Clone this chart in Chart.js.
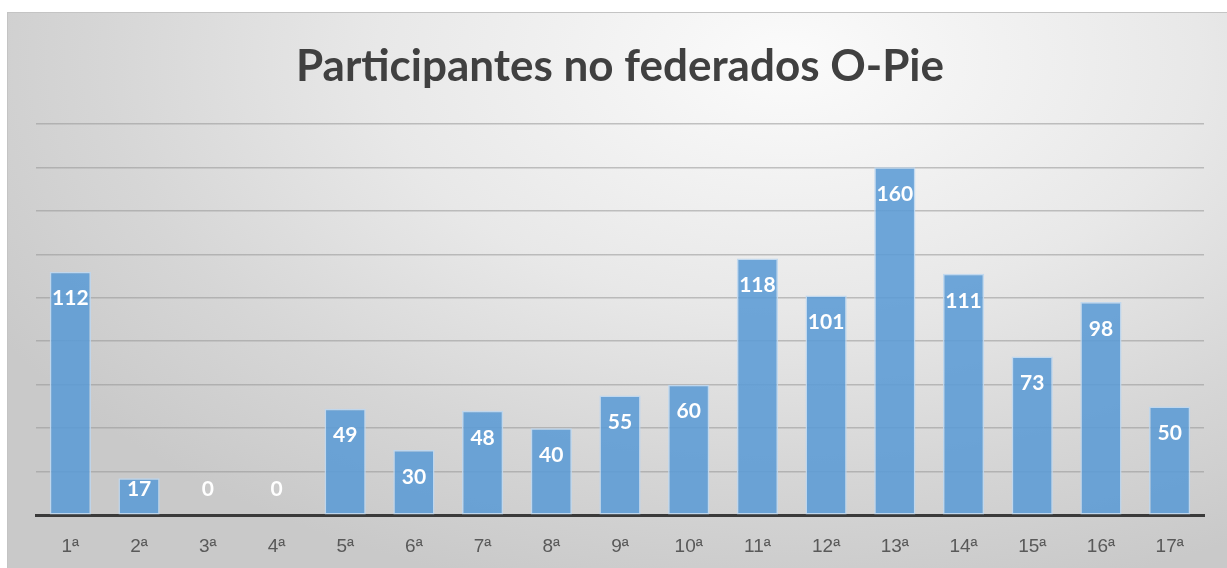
<!DOCTYPE html>
<html>
<head>
<meta charset="utf-8">
<script src="https://cdn.jsdelivr.net/npm/chart.js@4.4.0/dist/chart.umd.min.js"></script>
<style>
  html, body { margin: 0; padding: 0; background: #fff; overflow: hidden; }
  #box {
    position: absolute; left: 7px; top: 12px; width: 1222px; height: 583px;
    border: 1px solid #c4c4c4; box-sizing: border-box;
    background: radial-gradient(ellipse 75% 95% at 64% 8%, #fbfbfb 0%, #e8e8e8 45%, #d6d6d6 75%, #c9c9c9 100%);
  }
  #c { display: block; }
</style>
</head>
<body>
<div id="box"><canvas id="c" width="1220" height="581"></canvas></div>
<script>
/* datos */
var rondas  = ['1ª','2ª','3ª','4ª','5ª','6ª','7ª','8ª','9ª','10ª','11ª','12ª','13ª','14ª','15ª','16ª','17ª'];
var valores = [112, 17, 0, 0, 49, 30, 48, 40, 55, 60, 118, 101, 160, 111, 73, 98, 50];
var tituloGrafico = 'Participantes no federados O-Pie';

/* etiquetas blancas dentro del extremo de la barra */
var etiquetasBarra = {
  id: 'etiquetasBarra',
  afterDatasetsDraw: function(chart) {
    var ctx = chart.ctx;
    var meta = chart.getDatasetMeta(0);
    var base = chart.scales.y.getPixelForValue(0);
    ctx.save();
    ctx.fillStyle = '#ffffff';
    ctx.font = 'bold 21px Lato, "Open Sans", sans-serif';
    ctx.textAlign = 'center';
    ctx.textBaseline = 'middle';
    meta.data.forEach(function(bar, i) {
      var y = Math.min(bar.y + 27, base - 26);
      ctx.fillText(String(valores[i]), bar.x, y);
    });
    ctx.restore();
  }
};

new Chart(document.getElementById('c'), {
  type: 'bar',
  data: {
    labels: rondas,
    datasets: [{
      data: valores,
      backgroundColor: 'rgba(91,155,213,0.88)',
      borderColor: 'rgba(190,215,240,0.9)',
      borderWidth: 1.5,
      borderSkipped: false,
      categoryPercentage: 1.0,
      barPercentage: 0.6,
    }],
  },
  options: {
    responsive: false,
    animation: false,
    layout: { padding: { left: 28, right: 24, top: 0, bottom: 16 } },
    plugins: {
      legend: { display: false },
      tooltip: { enabled: false },
      title: {
        display: true,
        text: tituloGrafico,
        color: '#404040',
        font: { family: 'Lato, "Open Sans", sans-serif', size: 44, weight: 'bold' },
        padding: { top: 27, bottom: 31 },
      },
    },
    scales: {
      x: {
        grid: { display: false, drawTicks: false },
        border: { display: true, color: '#3a3a3a', width: 3 },
        ticks: {
          color: '#595959',
          padding: 20,
          font: { family: '"Liberation Sans", sans-serif', size: 19 },
        },
      },
      y: {
        min: 0, max: 180,
        ticks: { display: false, stepSize: 20 },
        grid: { color: 'rgba(150,150,150,0.55)', lineWidth: 1.5, drawTicks: false },
        border: { display: false },
      },
    },
  },
  plugins: [etiquetasBarra],
});
</script>
</body>
</html>
